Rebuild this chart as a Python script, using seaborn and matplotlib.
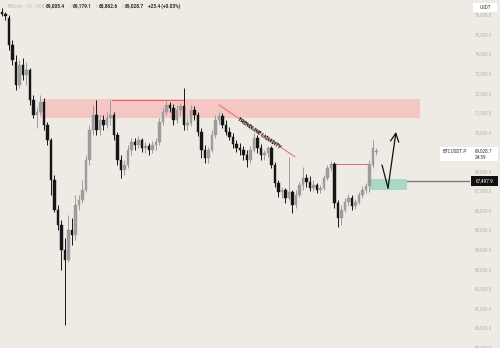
import numpy as np
import pandas as pd
import matplotlib
matplotlib.use("Agg")
import matplotlib.pyplot as plt
import matplotlib.patches as mpatches
import seaborn as sns

# ---------------- data (BTCUSDT.P, 1h candles) ----------------
opens = [76150, 76050, 75850, 74470, 73600, 72420, 73440, 72930, 73190, 71650,
         70890, 71040, 71550, 70370, 69610, 67560, 66030, 65260, 63980, 63470,
         65000, 64750, 66280, 66540, 67050, 68580, 70120, 70890, 70120, 70630,
         70370, 70730, 70890, 69860, 68580, 68070, 68330, 69100, 69500, 69350,
         69610, 69200, 69300, 69100, 69350, 69500, 70530, 71040, 71400, 71240,
         70630, 71140, 71350, 70370, 70480, 71140, 70890, 70020, 69100, 68690,
         69100, 69860, 70630, 70830, 70370, 70020, 69760, 69400, 69200, 69100,
         68840, 68580, 69100, 69710, 69200, 68840, 68940, 69200, 68330, 67410,
         66950, 67050, 66640, 66950, 66280, 66790, 67300, 67660, 67460, 67150,
         67300, 67050, 67150, 67660, 68170, 68380, 66380, 65620, 66030, 66430,
         66640, 66230, 66430, 66790, 67050, 67250, 68330, 69005.4]
highs = [76360, 76150, 76000, 74720, 73950, 73700, 73800, 73600, 73290, 71910,
         71290, 71910, 71750, 70530, 69710, 67820, 66280, 65510, 64590, 65770,
         65620, 66790, 66790, 67560, 68840, 70370, 71400, 71650, 70890, 70890,
         71040, 71650, 71040, 70020, 68840, 68580, 69350, 69710, 69710, 69810,
         69710, 69500, 69450, 69560, 69710, 70730, 71240, 71650, 71550, 71450,
         71400, 71500, 72270, 70730, 71400, 71350, 71040, 70220, 69350, 69250,
         70120, 70890, 71040, 70990, 70630, 70270, 69960, 69610, 69450, 69300,
         69100, 69300, 69960, 69860, 69400, 69100, 69300, 69300, 68480, 67560,
         67200, 67150, 68740, 67050, 67050, 67460, 68230, 67870, 67770, 67560,
         67410, 67300, 67820, 68330, 68530, 68480, 66540, 66280, 66640, 66840,
         66790, 66590, 66950, 67250, 67410, 68580, 69610, 69179.1]
lows = [75950, 75740, 74210, 73440, 72160, 72270, 72680, 72420, 71400, 70730,
        70220, 70890, 70120, 69350, 66790, 65920, 65000, 62960, 60140, 63370,
        64240, 64490, 66030, 66380, 66950, 68330, 69860, 69860, 69860, 70120,
        70220, 70370, 69610, 68330, 67660, 67820, 68170, 68840, 69100, 69200,
        68990, 68940, 68840, 68940, 69100, 69350, 70370, 70890, 71040, 70370,
        70480, 70890, 70120, 70120, 70320, 70630, 69810, 68690, 68430, 68430,
        68990, 69710, 70430, 70220, 69860, 69610, 69200, 68990, 68840, 68580,
        68230, 68430, 68990, 68940, 68580, 68580, 68740, 68170, 67200, 66690,
        66640, 66380, 66540, 65870, 66130, 66690, 67050, 67200, 67000, 67000,
        66900, 66900, 67050, 67560, 68020, 66130, 65160, 65260, 65920, 66230,
        66030, 66080, 66330, 66640, 66900, 66950, 68170, 68862.6]
closes = [76050, 75950, 74470, 73700, 72420, 73440, 72930, 73190, 71650, 70890,
          71040, 71550, 70370, 69610, 67560, 66030, 65260, 63980, 63470, 65000,
          64750, 66280, 66540, 67050, 68580, 70120, 70890, 70120, 70630, 70370,
          70730, 70890, 69860, 68580, 68070, 68330, 69100, 69500, 69350, 69610,
          69200, 69300, 69100, 69350, 69500, 70530, 71040, 71400, 71240, 70630,
          71140, 71350, 70370, 70480, 71140, 70890, 70020, 69100, 68690, 69100,
          69860, 70630, 70830, 70370, 70020, 69760, 69400, 69200, 69100, 68840,
          68580, 69100, 69710, 69200, 68840, 68940, 69200, 68330, 67410, 66950,
          67050, 66640, 66950, 66280, 66790, 67300, 67660, 67460, 67150, 67300,
          67050, 67150, 67660, 68170, 68380, 66380, 65620, 66030, 66430, 66640,
          66230, 66430, 66790, 67050, 67250, 68330, 69200, 69028.7]

price_ticks = [59000, 60000, 61000, 62000, 63000, 64000, 65000, 66000, 67000,
               68000, 69000, 70000, 71000, 72000, 73000, 74000, 75000, 76000]

supply_zone = [70730, 71700]       # pink zone
demand_zone = [67050, 67610]       # green zone
last_price = 69028.7
marked_price = 67497.9
trend_prices = [71400, 68740]
swing_high = 68380
path_prices = [68330, 67150, 70020]

# ---------------- style ----------------
bg = "#eeeae4"
up_col = "#9c9c9c"
dn_col = "#161616"

sns.set_theme(style="white")
plt.rcParams["font.family"] = ["Roboto", "DejaVu Sans"]

W, H = 500, 348
fig = plt.figure(figsize=(W / 100, H / 100), dpi=100)
fig.patch.set_facecolor(bg)
ax = fig.add_axes([0, 0, 470 / W, 1])
ax.set_facecolor(bg)

df = pd.DataFrame({"open": opens, "high": highs, "low": lows, "close": closes})
df["idx"] = np.arange(len(df))
df["up"] = df["close"] >= df["open"]
colors = np.where(df["up"], up_col, dn_col)

def px2i(x):
    return (x - 2) / 3.5

ax.set_xlim(px2i(0), px2i(470))
ax.set_ylim(58967, 76767)

# zones (behind candles)
ax.add_patch(mpatches.Rectangle((px2i(40), supply_zone[0]), px2i(420) - px2i(40),
                                supply_zone[1] - supply_zone[0],
                                facecolor="#f4c6c4", edgecolor="none", zorder=1))
ax.add_patch(mpatches.Rectangle((px2i(370), demand_zone[0]), px2i(407) - px2i(370),
                                demand_zone[1] - demand_zone[0],
                                facecolor="#a9d7c8", edgecolor="none", zorder=1))

# candles
ax.vlines(df["idx"], df["low"], df["high"], colors=colors, lw=0.7, zorder=3)
body_lo = np.minimum(df["open"], df["close"])
body_h = np.maximum(np.abs(df["close"] - df["open"]), 25)
ax.bar(df["idx"], body_h, bottom=body_lo, width=0.62, color=colors,
       edgecolor=colors, linewidth=0.3, zorder=4)

# lines
red = "#e4696b"
ax.plot([px2i(112), px2i(184)], [71652, 71652], color=red, lw=0.8, zorder=2)
ax.plot([px2i(219), px2i(295)], trend_prices, color=red, lw=0.7, zorder=2)
ax.plot([px2i(330), px2i(370)], [swing_high, swing_high], color=red, lw=0.7, zorder=2)
ax.plot([px2i(407), px2i(470)], [marked_price, marked_price], color="#7a7a7a",
        lw=1.0, zorder=2)

# trendline label
p1 = ax.transData.transform((px2i(219), trend_prices[0]))
p2 = ax.transData.transform((px2i(295), trend_prices[1]))
ang = np.degrees(np.arctan2(p2[1] - p1[1], p2[0] - p1[0]))
ax.text(px2i(259), 69980, "TRENDLINE LIQUIDITY", rotation=ang,
        rotation_mode="anchor", ha="center", va="center", fontsize=3.6,
        fontweight="bold", color="#111111", zorder=5)

# projected path arrow
ax.plot([px2i(382), px2i(388)], path_prices[:2], color="#111111", lw=0.9, zorder=5)
ax.annotate("", xy=(px2i(396), path_prices[2]), xytext=(px2i(388), path_prices[1]),
            arrowprops=dict(arrowstyle="->,head_length=0.5,head_width=0.25",
                            color="#111111", lw=0.9, shrinkA=0, shrinkB=0), zorder=5)

# right price axis
ax.yaxis.tick_right()
ax.set_yticks(price_ticks)
ax.set_yticklabels([f"{v:,.1f}" for v in price_ticks])
ax.tick_params(axis="y", length=0, pad=3.6, labelsize=3.3, labelcolor="#b3b3b3")
ax.set_xticks([])
for s in ax.spines.values():
    s.set_visible(False)

def fx(x):
    return x / W

def fy(y):
    return 1 - y / H

# header (OHLC legend)
fig.text(fx(8), fy(6), "Bitcoin · 1h · OKX", fontsize=3.4, color="#bdbdbd",
         va="center", ha="left")
hdr = [(43, "O", f"{opens[-1]:,.1f}"), (70, "H", f"{highs[-1]:,.1f}"),
       (96, "L", f"{lows[-1]:,.1f}"), (122, "C", f"{closes[-1]:,.1f}")]
for x0, k, v in hdr:
    fig.text(fx(x0), fy(6), k, fontsize=3.4, color="#c4c4c4", va="center", ha="left")
    fig.text(fx(x0 + 2.5), fy(6), v, fontsize=3.4, color="#2a2a2a", va="center",
             ha="left", fontweight="bold")
fig.text(fx(148), fy(6), "+23.4 (+0.03%)", fontsize=3.4, color="#2a2a2a",
         va="center", ha="left", fontweight="bold")

# USDT box
fig.patches.append(mpatches.Rectangle((fx(473), fy(12)), fx(24), 9 / H,
                                      transform=fig.transFigure, facecolor="white",
                                      edgecolor="none", zorder=2))
fig.text(fx(485), fy(7.5), "USDT", fontsize=3.3, color="#333333", ha="center",
         va="center", zorder=3)

# last price label
fig.patches.append(mpatches.Rectangle((fx(440), fy(161)), fx(58), 14 / H,
                                      transform=fig.transFigure, facecolor="white",
                                      edgecolor="none", zorder=2))
fig.text(fx(443), fy(151.5), "BTCUSDT.P", fontsize=3.3, color="#333333",
         ha="left", va="center", zorder=3)
fig.text(fx(475), fy(151), f"{last_price:,.1f}", fontsize=3.3, color="#333333",
         ha="left", va="center", zorder=3)
fig.text(fx(475), fy(157.5), "24:59", fontsize=3.3, color="#333333",
         ha="left", va="center", zorder=3)

# marked price label
fig.patches.append(mpatches.Rectangle((fx(471), fy(186)), fx(27), 10 / H,
                                      transform=fig.transFigure, facecolor="#111111",
                                      edgecolor="none", zorder=2))
fig.text(fx(484.5), fy(181), f"{marked_price:,.1f}", fontsize=3.3, color="white",
         ha="center", va="center", zorder=3)

fig.savefig("out.png", dpi=100, facecolor=bg)
